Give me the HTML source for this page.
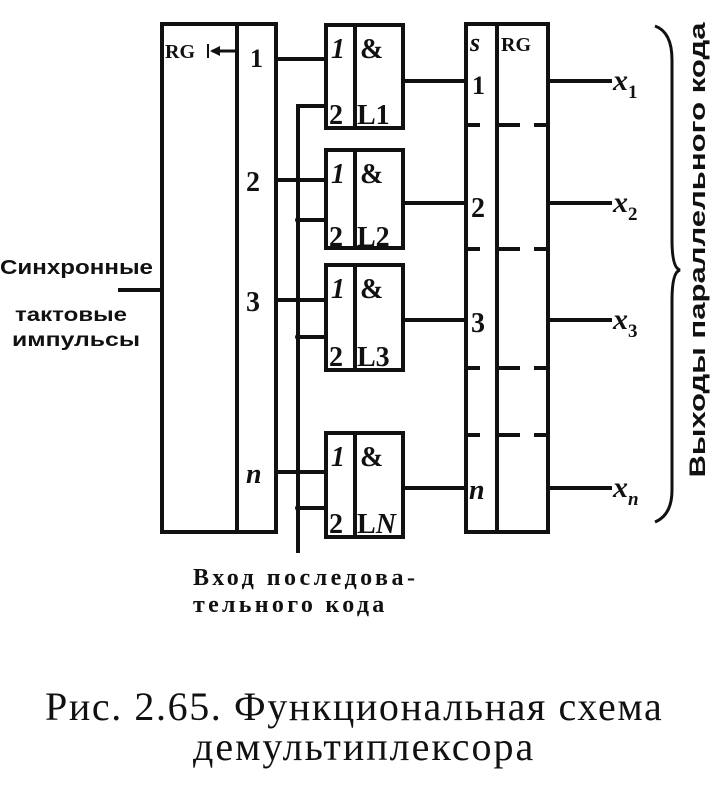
<!DOCTYPE html>
<html><head><meta charset="utf-8"><style>
html,body{margin:0;padding:0;background:#fff;}
svg{display:block;}
</style></head><body>
<svg width="717" height="800" viewBox="0 0 717 800" xmlns="http://www.w3.org/2000/svg">
<g fill="none" stroke="#111" stroke-width="4">
<rect x="162" y="24" width="114" height="508"/>
<line x1="237" y1="24" x2="237" y2="532"/>
<line x1="212" y1="51" x2="235" y2="51" stroke-width="3"/>
<line x1="208" y1="44" x2="208" y2="58" stroke-width="2"/>
<line x1="118" y1="290" x2="162" y2="290"/>
<rect x="326" y="25" width="77" height="103"/><line x1="355" y1="25" x2="355" y2="128"/>
<rect x="326" y="150" width="77" height="98"/><line x1="355" y1="150" x2="355" y2="248"/>
<rect x="326" y="265" width="77" height="105"/><line x1="355" y1="265" x2="355" y2="370"/>
<rect x="326" y="433" width="77" height="104"/><line x1="355" y1="433" x2="355" y2="537"/>
<rect x="466" y="24" width="82" height="508"/>
<line x1="497" y1="24" x2="497" y2="532"/>
<polyline points="326,106 298,106 298,553"/>
<line x1="298" y1="220" x2="326" y2="220"/>
<line x1="298" y1="337" x2="326" y2="337"/>
<line x1="298" y1="508" x2="326" y2="508"/>
<line x1="276" y1="59" x2="326" y2="59"/>
<line x1="276" y1="180" x2="326" y2="180"/>
<line x1="276" y1="300" x2="326" y2="300"/>
<line x1="276" y1="472" x2="326" y2="472"/>
<line x1="403" y1="81" x2="466" y2="81"/>
<line x1="403" y1="203" x2="466" y2="203"/>
<line x1="403" y1="320" x2="466" y2="320"/>
<line x1="403" y1="488" x2="466" y2="488"/>
<line x1="548" y1="81" x2="612" y2="81"/>
<line x1="548" y1="203" x2="612" y2="203"/>
<line x1="548" y1="320" x2="612" y2="320"/>
<line x1="548" y1="488" x2="612" y2="488"/>
<g>
<line x1="466" y1="125" x2="480" y2="125"/><line x1="497" y1="125" x2="520" y2="125"/><line x1="534" y1="125" x2="548" y2="125"/>
<line x1="466" y1="249" x2="480" y2="249"/><line x1="497" y1="249" x2="520" y2="249"/><line x1="534" y1="249" x2="548" y2="249"/>
<line x1="466" y1="368" x2="480" y2="368"/><line x1="497" y1="368" x2="520" y2="368"/><line x1="534" y1="368" x2="548" y2="368"/>
<line x1="466" y1="435" x2="480" y2="435"/><line x1="497" y1="435" x2="520" y2="435"/><line x1="534" y1="435" x2="548" y2="435"/>
</g>
<path d="M655,26 Q672,32 672,60 L672,240 Q672,268 680,270 Q672,272 672,300 L672,490 Q672,515 655,522" stroke-width="3"/>
</g>
<g fill="#111">
<polygon points="210,51 220,46 220,56"/>
<circle cx="298" cy="180" r="3"/><circle cx="298" cy="220" r="3"/>
<circle cx="298" cy="300" r="3"/><circle cx="298" cy="337" r="3"/>
<circle cx="298" cy="472" r="3"/><circle cx="298" cy="508" r="3"/>
</g>
<g font-family="Liberation Serif, serif" fill="#111">
<g font-weight="bold">
<text x="165" y="58" font-size="20">RG</text>
<text x="250" y="67" font-size="26">1</text>
<text x="246" y="191" font-size="28">2</text>
<text x="246" y="311" font-size="28">3</text>
<text x="246" y="483" font-size="28" font-style="italic">n</text>
<g font-size="28">
<text x="331" y="58" font-style="italic">1</text><text x="360" y="58">&amp;</text>
<text x="329" y="124">2</text><text x="357" y="124">L1</text>
<text x="331" y="183" font-style="italic">1</text><text x="360" y="183">&amp;</text>
<text x="329" y="246">2</text><text x="357" y="246">L2</text>
<text x="331" y="298" font-style="italic">1</text><text x="360" y="298">&amp;</text>
<text x="329" y="366">2</text><text x="357" y="366">L3</text>
<text x="331" y="466" font-style="italic">1</text><text x="360" y="466">&amp;</text>
<text x="329" y="533">2</text><text x="357" y="533">L<tspan font-style="italic">N</tspan></text>
</g>
<text x="470" y="51" font-size="26" font-style="italic">s</text>
<text x="501" y="51" font-size="20">RG</text>
<text x="472" y="94" font-size="26">1</text>
<text x="471" y="217" font-size="28">2</text>
<text x="471" y="332" font-size="28">3</text>
<text x="469" y="499" font-size="28" font-style="italic">n</text>
<g font-size="30" font-style="italic">
<text x="613" y="90">x<tspan font-size="19" font-style="normal" dy="8">1</tspan></text>
<text x="613" y="212">x<tspan font-size="19" font-style="normal" dy="8">2</tspan></text>
<text x="613" y="329">x<tspan font-size="19" font-style="normal" dy="8">3</tspan></text>
<text x="613" y="497">x<tspan font-size="19" font-style="italic" dy="8">n</tspan></text>
</g>
<text x="193" y="585" font-size="24" letter-spacing="3.5">Вход последова-</text>
<text x="193" y="612" font-size="24" letter-spacing="3.3">тельного кода</text>
</g>
<text x="45" y="720" font-size="40" letter-spacing="1.6">Рис. 2.65. Функциональная схема</text>
<text x="193" y="760" font-size="40" letter-spacing="2">демультиплексора</text>
</g>
<g font-family="Liberation Sans, sans-serif" font-weight="bold" fill="#111">
<text x="0" y="274" font-size="20" textLength="153" lengthAdjust="spacingAndGlyphs">Синхронные</text>
<text x="15" y="321" font-size="19" textLength="112" lengthAdjust="spacingAndGlyphs">тактовые</text>
<text x="12" y="346" font-size="19" textLength="128" lengthAdjust="spacingAndGlyphs">импульсы</text>
<text transform="translate(705,250) rotate(-90)" font-size="22" text-anchor="middle" textLength="455" lengthAdjust="spacingAndGlyphs">Выходы параллельного кода</text>
</g>
</svg>
</body></html>
